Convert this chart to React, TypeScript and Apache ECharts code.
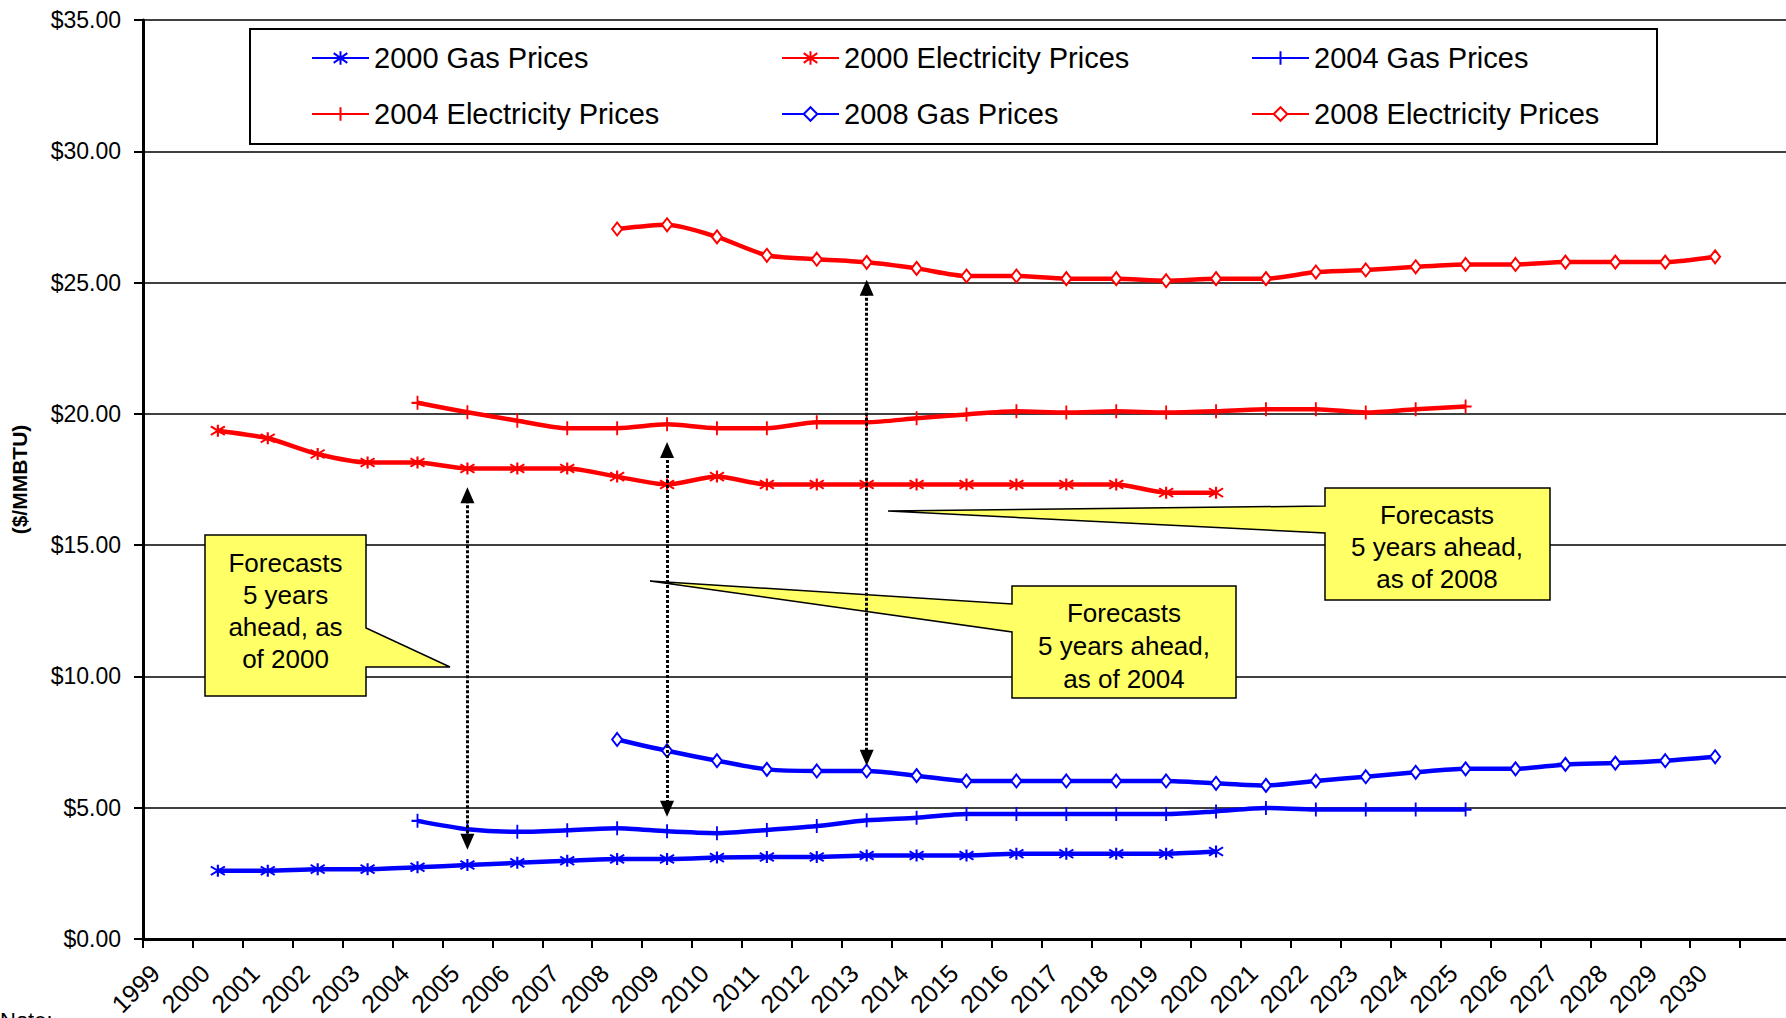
import React, { useEffect, useRef } from "react";
import * as echarts from "echarts";

// ---------- data ----------
const categories = [
  "1999", "2000", "2001", "2002", "2003", "2004", "2005", "2006", "2007", "2008",
  "2009", "2010", "2011", "2012", "2013", "2014", "2015", "2016", "2017", "2018",
  "2019", "2020", "2021", "2022", "2023", "2024", "2025", "2026", "2027", "2028",
  "2029", "2030", "2031",
];

// 2000 forecasts (2000-2020)
const gas2000 = [2.60, 2.60, 2.66, 2.66, 2.73, 2.82, 2.90, 2.98, 3.05, 3.05, 3.10, 3.12, 3.12, 3.18, 3.18, 3.18, 3.25, 3.25, 3.25, 3.25, 3.33];
const elec2000 = [19.36, 19.07, 18.47, 18.15, 18.15, 17.92, 17.92, 17.92, 17.61, 17.31, 17.61, 17.31, 17.31, 17.31, 17.31, 17.31, 17.31, 17.31, 17.31, 17.00, 17.00];
// 2004 forecasts (2004-2025)
const gas2004 = [4.50, 4.18, 4.08, 4.14, 4.22, 4.10, 4.03, 4.15, 4.30, 4.52, 4.62, 4.76, 4.76, 4.76, 4.76, 4.76, 4.86, 4.99, 4.93, 4.93, 4.93, 4.93];
const elec2004 = [20.42, 20.06, 19.74, 19.45, 19.45, 19.60, 19.45, 19.45, 19.68, 19.68, 19.83, 19.98, 20.10, 20.05, 20.10, 20.05, 20.10, 20.18, 20.18, 20.05, 20.18, 20.28];
// 2008 forecasts (2008-2030)
const gas2008 = [7.60, 7.17, 6.79, 6.46, 6.40, 6.40, 6.22, 6.02, 6.02, 6.02, 6.02, 6.02, 5.93, 5.85, 6.02, 6.18, 6.35, 6.48, 6.48, 6.65, 6.70, 6.79, 6.94];
const elec2008 = [27.04, 27.20, 26.74, 26.04, 25.89, 25.77, 25.54, 25.25, 25.25, 25.15, 25.15, 25.07, 25.15, 25.15, 25.40, 25.48, 25.60, 25.69, 25.69, 25.78, 25.78, 25.78, 25.98];

const seriesNames = [
  "2000 Gas Prices",
  "2000 Electricity Prices",
  "2004 Gas Prices",
  "2004 Electricity Prices",
  "2008 Gas Prices",
  "2008 Electricity Prices",
];
const seriesStarts = [2000, 2000, 2004, 2004, 2008, 2008];
const seriesValues = [gas2000, elec2000, gas2004, elec2004, gas2008, elec2008];

// forecast-gap arrows (year, upper end, lower end)
const arrowYears = ["2005", "2009", "2013"];
const arrowUpper = [16.9, 18.62, 24.8];
const arrowLower = [3.7, 4.96, 6.9];

const yTickLabels = ["$0.00", "$5.00", "$10.00", "$15.00", "$20.00", "$25.00", "$30.00", "$35.00"];

// ---------- styling ----------
const FONT = "'Liberation Sans', Arial, Helvetica, sans-serif";
const BLUE = "#0000FF";
const RED = "#FF0000";
const ASTERISK = "path://M7 0V14M0 2L14 12M0 12L14 2";
const PLUS = "path://M6 0V14M0 7H12";

function align(start: number, values: number[]) {
  return categories.map((c) => {
    const i = Number(c) - start;
    return i >= 0 && i < values.length ? values[i] : null;
  });
}

const seriesStyle = [
  { color: BLUE, symbol: ASTERISK, size: [14, 12], fill: BLUE },
  { color: RED, symbol: ASTERISK, size: [14, 12], fill: RED },
  { color: BLUE, symbol: PLUS, size: [12, 14], fill: BLUE },
  { color: RED, symbol: PLUS, size: [12, 14], fill: RED },
  { color: BLUE, symbol: "diamond", size: [10, 13], fill: "#FFFFFF" },
  { color: RED, symbol: "diamond", size: [10, 13], fill: "#FFFFFF" },
];

function callout(points: number[][], text: string, cx: number, cy: number, lh: number) {
  return [
    {
      type: "polygon",
      z: 1,
      shape: { points },
      style: { fill: "#FFFF66", stroke: "#000", lineWidth: 1.5 },
      silent: true,
    },
    {
      type: "text",
      z: 1,
      x: cx,
      y: cy,
      style: {
        text,
        fill: "#000",
        font: `26px ${FONT}`,
        align: "center",
        verticalAlign: "middle",
        lineHeight: lh,
      },
      silent: true,
    },
  ];
}

export default function App() {
  const ref = useRef<HTMLDivElement>(null);

  useEffect(() => {
    if (!ref.current) return;
    const chart = echarts.init(ref.current, null, { renderer: "svg" });

    const series: any[] = seriesNames.map((name, k) => {
      const st = seriesStyle[k];
      return {
        name,
        type: "line",
        data: align(seriesStarts[k], seriesValues[k]),
        smooth: 0.25,
        symbol: st.symbol,
        symbolSize: st.size,
        showSymbol: true,
        color: st.color,
        lineStyle: { color: st.color, width: 4.5 },
        itemStyle: { color: st.fill, borderColor: st.color, borderWidth: 2 },
        emphasis: { disabled: true },
        z: 3,
      };
    });

    series[0].markLine = {
      silent: true,
      symbol: ["triangle", "triangle"],
      symbolSize: [14, 16],
      label: { show: false },
      lineStyle: { color: "#000", width: 3, type: [3, 2] },
      emphasis: { disabled: true },
      data: arrowYears.map((yr, i) => [
        { coord: [yr, arrowUpper[i]] },
        { coord: [yr, arrowLower[i]] },
      ]),
    };

    const legendCommon = {
      orient: "vertical",
      top: 43,
      padding: 0,
      itemGap: 26,
      itemWidth: 57,
      itemHeight: 17,
      selectedMode: false,
      textStyle: { fontSize: 29, color: "#000", fontFamily: FONT, lineHeight: 30 },
    };

    chart.setOption({
      animation: false,
      backgroundColor: "#FFFFFF",
      textStyle: { fontFamily: FONT },
      grid: { left: 143, top: 20, width: 1647, height: 919, containLabel: false, outerBoundsMode: "none" },
      legend: [
        { ...legendCommon, left: 311, data: [seriesNames[0], seriesNames[3]] },
        { ...legendCommon, left: 781, data: [seriesNames[1], seriesNames[4]] },
        { ...legendCommon, left: 1251, data: [seriesNames[2], seriesNames[5]] },
      ],
      xAxis: {
        type: "category",
        data: categories,
        boundaryGap: true,
        axisLine: { lineStyle: { color: "#000", width: 3 } },
        axisTick: { show: true, interval: 0, length: 9, lineStyle: { color: "#000", width: 2 } },
        axisLabel: {
          interval: 0,
          rotate: 45,
          margin: 17,
          padding: [0, 18, 0, 0],
          fontSize: 25,
          color: "#000",
          fontFamily: FONT,
          formatter: (v: string) => (v === "2031" ? "" : v),
        },
        splitLine: { show: false },
      },
      yAxis: {
        type: "value",
        min: 0,
        max: 35,
        interval: 5,
        name: "($/MMBTU)",
        nameLocation: "middle",
        nameGap: 113,
        nameRotate: 90,
        nameTextStyle: { fontWeight: "bold", fontSize: 21, color: "#000", fontFamily: FONT },
        axisLine: { show: true, lineStyle: { color: "#000", width: 3 } },
        axisTick: { show: true, length: 9, lineStyle: { color: "#000", width: 2 } },
        axisLabel: {
          margin: 22,
          fontSize: 23,
          color: "#000",
          fontFamily: FONT,
          formatter: (v: number) => yTickLabels[Math.round(v / 5)],
        },
        splitLine: { show: true, lineStyle: { color: "#000", width: 1.5 } },
      },
      series,
      graphic: [
        {
          type: "rect",
          z: 1,
          shape: { x: 250, y: 29, width: 1407, height: 115 },
          style: { fill: "none", stroke: "#000", lineWidth: 2 },
          silent: true,
        },
        ...callout(
          [[205, 535], [366, 535], [366, 628], [450, 667], [366, 667], [366, 696], [205, 696]],
          "Forecasts\n5 years\nahead, as\nof 2000",
          285.5, 611, 32
        ),
        ...callout(
          [[1012, 586], [1236, 586], [1236, 698], [1012, 698], [1012, 632], [650, 581], [1012, 604]],
          "Forecasts\n5 years ahead,\nas of 2004",
          1124, 646, 33
        ),
        ...callout(
          [[1325, 488], [1550, 488], [1550, 600], [1325, 600], [1325, 533], [888, 511], [1325, 506]],
          "Forecasts\n5 years ahead,\nas of 2008",
          1437, 547, 32
        ),
        {
          type: "text",
          x: 0,
          y: 1009,
          style: { text: "Note:", fill: "#000", font: `22px ${FONT}` },
          silent: true,
        },
      ],
    });

    return () => chart.dispose();
  }, []);

  return (
    <div
      ref={ref}
      style={{ position: "absolute", left: 0, top: 0, width: 1786, height: 1018, background: "#fff" }}
    />
  );
}
